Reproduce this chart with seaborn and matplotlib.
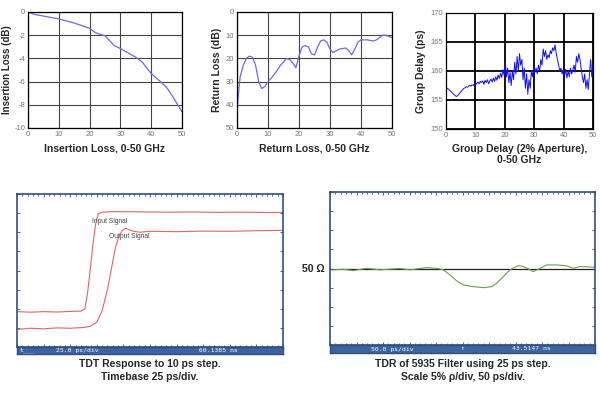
import numpy as np
import seaborn as sns
import matplotlib.pyplot as plt

sns.set_style("white")
plt.rcParams['font.family'] = ['Liberation Sans', 'DejaVu Sans']
plt.rcParams['axes.unicode_minus'] = False

# Insertion loss (dB) vs frequency (GHz)
il_freq = [0, 2, 5, 10, 15, 20, 22, 25, 28, 30, 35, 37, 40, 43, 45, 47, 50]
il_loss = [0, -0.2, -0.35, -0.6, -0.95, -1.4, -1.8, -2.05, -2.9, -3.15, -3.9, -4.3, -5.3, -6.0, -6.5, -7.3, -8.6]

# Return loss (dB) vs frequency (GHz)
rl_freq = [0, 0.5, 1, 2, 3, 4, 5, 6, 7, 8, 9, 10, 12, 14, 16, 17, 18, 19, 20, 21, 22, 23, 24, 25,
           26, 27, 28, 29, 30, 31, 33, 35, 36, 37, 38, 39, 40, 42, 44, 45, 47, 48, 50]
rl_loss = [42, 35, 28, 23, 20, 19, 19.5, 23, 30, 33, 32, 30, 27, 23, 20, 20.5, 22, 24, 19, 15, 14.5, 15, 18, 18.5,
           15, 12.5, 12, 13, 16, 17.5, 16, 15.5, 16.5, 18.5, 16, 13, 12, 12, 12.5, 12, 10, 10, 11]

# Group delay (ps), sampled evenly 0-50 GHz
gd_delay = [157.2, 157.0, 156.9, 156.7, 156.5, 156.3, 156.1, 155.9, 155.7, 155.6,
            155.8, 156.0, 156.3, 156.5, 156.8, 157.0, 157.1, 157.3, 157.2, 157.4,
            157.5, 157.4, 157.6, 157.5, 157.8, 157.6, 157.9, 158.1, 157.8, 158.2,
            158.0, 158.3, 157.7, 158.4, 158.0, 158.5, 157.8, 158.3, 158.6, 158.1,
            158.8, 158.2, 159.0, 158.4, 159.3, 158.7, 159.6, 158.9, 160.2, 159.3,
            161.5, 159.0, 160.5, 158.0, 159.8, 157.5, 160.0, 158.5, 161.5, 159.5,
            162.5, 160.0, 163.0, 161.0, 162.0, 158.5, 160.5, 157.0, 159.5, 156.0,
            158.5, 157.0, 160.0, 159.0, 160.8, 159.8, 160.5, 159.5, 161.0, 160.0,
            162.0, 161.0, 163.8, 162.5, 163.5, 162.0, 162.8, 162.3, 163.5, 163.0,
            164.0, 163.5, 164.5, 163.0, 162.0, 161.0, 160.0, 160.5, 159.5, 160.2,
            159.2, 160.3, 158.8, 160.0, 159.0, 160.5, 159.5, 160.2, 161.0, 159.8,
            162.5, 161.5, 163.0, 162.0, 160.5, 159.0, 158.0, 159.5, 157.0, 158.5,
            156.8, 159.5, 162.0, 159.0, 161.0]
gd_freq = np.linspace(0, 50, len(gd_delay))

# TDT traces, in screen divisions (x: 25 ps/div)
tdt_in_x = [0, 0.5, 1.0, 1.5, 2.0, 2.4, 2.55, 2.65, 2.75, 2.85, 2.95, 3.05, 3.2, 3.6, 4.5, 5.5, 6.5, 7.5, 8.5, 9.5, 10]
tdt_in_y = [1.85, 1.82, 1.85, 1.83, 1.86, 1.88, 2.0, 2.8, 4.0, 5.3, 6.4, 6.95, 7.05, 7.08, 7.07, 7.05, 7.06, 7.04, 7.05, 7.03, 7.04]
tdt_out_x = [0, 0.5, 1.0, 1.5, 2.0, 2.5, 2.75, 3.0, 3.2, 3.4, 3.55, 3.7, 3.85, 4.0, 4.1, 4.3, 4.6, 5.0, 6.0, 7.0, 8.0, 9.0, 10]
tdt_out_y = [0.92, 0.98, 0.95, 1.0, 0.98, 1.02, 1.08, 1.3, 1.9, 3.0, 4.1, 5.2, 5.85, 6.15, 6.2, 6.08, 6.0, 6.05, 6.03, 6.06, 6.05, 6.08, 6.1]

# TDR trace, in screen divisions (x: 50 ps/div, 50 ohm line at 4 div)
tdr_x = [0.06, 0.5, 0.88, 1.38, 1.89, 2.64, 3.02, 3.65, 4.03, 4.28, 4.53, 4.78, 5.03, 5.41, 5.79, 6.1,
         6.29, 6.54, 6.79, 7.11, 7.3, 7.55, 7.67, 7.86, 8.18, 8.55, 8.93, 9.18, 9.43, 10.0]
tdr_y = [3.93, 3.96, 3.89, 4.01, 3.93, 4.0, 3.93, 4.05, 4.01, 3.93, 3.66, 3.35, 3.14, 3.05, 3.0, 3.05,
         3.23, 3.58, 3.93, 4.15, 4.1, 3.93, 3.84, 3.96, 4.19, 4.19, 4.14, 4.01, 4.1, 4.07]

W, H = 600, 393
fig = plt.figure(figsize=(6, 3.93), dpi=100)


def px_axes(x0, y0, x1, y1):
    return fig.add_axes([x0 / W, 1 - y1 / H, (x1 - x0) / W, (y1 - y0) / H])


def top_style(ax, gridcol, gridlw):
    ax.grid(True, color=gridcol, linewidth=gridlw)
    for s in ax.spines.values():
        s.set_color('black')
        s.set_linewidth(0.9)
    ax.tick_params(length=0, labelsize=5.5, labelcolor='#777777', pad=2)
    ax.set_xlim(0, 50)
    ax.set_xticks(range(0, 51, 10))


lab = dict(fontsize=7.5, fontweight='bold')

ax1 = px_axes(28, 12, 182, 128)
sns.lineplot(x=il_freq, y=il_loss, ax=ax1, color='#6b6be6', linewidth=0.9)
top_style(ax1, '#444444', 0.8)
ax1.set_ylim(-10, 0)
ax1.set_yticks(range(-10, 1, 2))
ax1.set_ylabel('Insertion Loss (dB)', labelpad=2, fontsize=7, fontweight='bold')
ax1.set_xlabel('Insertion Loss, 0-50 GHz', labelpad=4, **lab)

ax2 = px_axes(237, 12, 392, 128)
sns.lineplot(x=rl_freq, y=rl_loss, ax=ax2, color='#6b6be6', linewidth=0.9)
top_style(ax2, '#444444', 0.8)
ax2.set_ylim(50, 0)
ax2.set_yticks(range(0, 51, 10))
ax2.set_ylabel('Return Loss (dB)', labelpad=3, **lab)
ax2.set_xlabel('Return Loss, 0-50 GHz', labelpad=4, **lab)

ax3 = px_axes(446, 13, 593, 129)
sns.lineplot(x=gd_freq, y=gd_delay, ax=ax3, color='#1010ff', linewidth=0.7)
top_style(ax3, 'black', 1.3)
ax3.set_ylim(150, 170)
ax3.set_yticks(range(150, 171, 5))
ax3.set_ylabel('Group Delay (ps)', labelpad=3, **lab)
ax3.set_xlabel('Group Delay (2% Aperture),\n0-50 GHz', labelpad=4, linespacing=1.1, **lab)

frame_col = '#2f4f82'
bar_col = '#3c64a0'


def scope(x0, y0, x1, y1, bar_h):
    ax = px_axes(x0, y0, x1, y1 - bar_h)
    ax.set_xlim(0, 10)
    ax.set_ylim(0, 8)
    ax.set_xticks(np.arange(0, 10.01, 1))
    ax.set_xticks(np.arange(0, 10.01, 0.2), minor=True)
    ax.set_yticks(np.arange(0, 8.01, 1))
    ax.tick_params(which='both', direction='in', top=True, right=True, bottom=True, left=True,
                   labelbottom=False, labelleft=False, color=frame_col, width=0.6)
    ax.tick_params(which='major', length=2.2)
    ax.tick_params(which='minor', length=1.2)
    for s in ax.spines.values():
        s.set_color(frame_col)
        s.set_linewidth(1.2)
    bar = px_axes(x0, y1 - bar_h, x1, y1)
    bar.set_facecolor(bar_col)
    bar.set_xticks([])
    bar.set_yticks([])
    for s in bar.spines.values():
        s.set_color(frame_col)
        s.set_linewidth(1.0)
    bar.set_xlim(x0, x1)
    bar.set_ylim(0, 1)
    return ax, bar


mono = dict(family='DejaVu Sans Mono', fontsize=4.6, color='white', va='center')

ax4, bar4 = scope(17, 194, 283, 354, 7)
sns.lineplot(x=tdt_in_x, y=tdt_in_y, ax=ax4, color='#e06464', linewidth=0.8)
sns.lineplot(x=tdt_out_x, y=tdt_out_y, ax=ax4, color='#e06464', linewidth=0.8)
ax4.text(2.82, 6.54, 'Input Signal', fontsize=4.8, color='#444444', va='center')
ax4.text(3.46, 5.76, 'Output Signal', fontsize=4.8, color='#444444', va='center')
bar4.text(20, 0.5, 't___', **mono)
bar4.text(77, 0.5, '25.0 ps/div', ha='center', **mono)
bar4.text(218, 0.5, '60.1385 ns', ha='center', **mono)

ax5, bar5 = scope(330, 192, 595, 353, 8)
ax5.axhline(4, color='#222222', linewidth=0.9)
sns.lineplot(x=tdr_x, y=tdr_y, ax=ax5, color='#6a9e4a', linewidth=0.8)
bar5.text(392, 0.5, '50.0 ps/div', ha='center', **mono)
bar5.text(462, 0.5, '\u2191', ha='center', **mono)
bar5.text(531, 0.5, '43.5147 ns', ha='center', **mono)
fig.text(313 / W, 1 - 269 / H, '50 \u03a9', ha='center', va='center', **lab)

cap = dict(fontsize=7.5, fontweight='bold', ha='center', va='center')
fig.text(150 / W, 1 - 364 / H, 'TDT Response to 10 ps step.', **cap)
fig.text(150 / W, 1 - 377 / H, 'Timebase 25 ps/div.', **cap)
fig.text(463 / W, 1 - 364 / H, 'TDR of 5935 Filter using 25 ps step.', **cap)
fig.text(463 / W, 1 - 377 / H, 'Scale 5% \u03c1/div, 50 ps/div.', **cap)

fig.savefig('out.png', dpi=100)
